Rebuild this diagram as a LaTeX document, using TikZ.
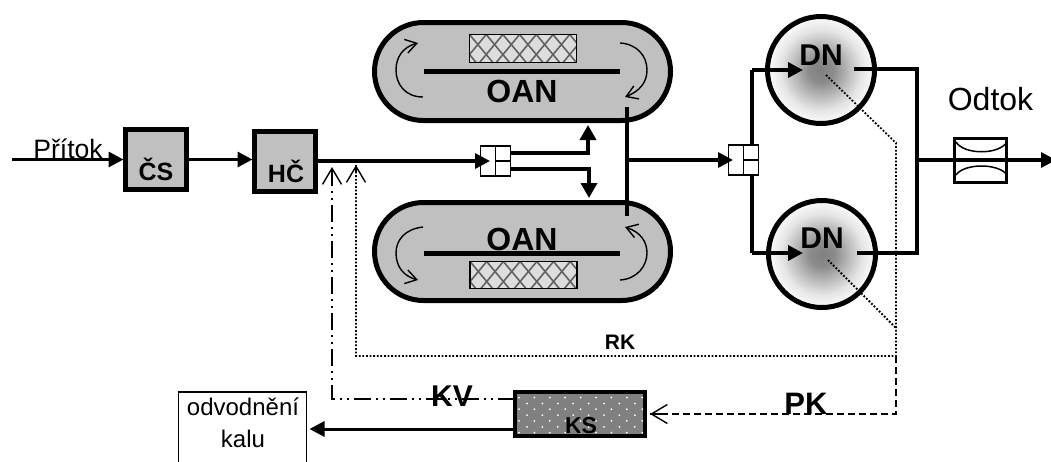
\documentclass[tikz,border=0pt]{standalone}
\usepackage{fontspec}
\setmainfont{Liberation Sans}
\usetikzlibrary{arrows.meta,calc}
\definecolor{tankgray}{HTML}{C0C0C0}
\definecolor{ksgray}{HTML}{808080}
\definecolor{hatchfill}{HTML}{DDDDDD}
\pgfdeclareradialshading{dnshade}{\pgfpointorigin}{rgb(0bp)=(.5,.5,.5);rgb(6bp)=(.55,.55,.55);rgb(13bp)=(.74,.74,.74);rgb(19bp)=(.9,.9,.9);rgb(26bp)=(1,1,1);rgb(50bp)=(1,1,1)}
\tikzset{
  lbl/.style={inner sep=0pt,outer sep=0pt,text=black,anchor=base},
  boxlbl/.style={lbl,font=\fontsize{25}{25}\selectfont\bfseries},
  oanlbl/.style={lbl,font=\fontsize{32}{32}\selectfont\bfseries},
  plainlbl/.style={lbl,font=\fontsize{24}{24}\selectfont},
  grayblock/.style={draw=black,fill=tankgray,line width=5pt,inner sep=0pt,outer sep=0pt,minimum width=61pt,minimum height=60pt},
  tank/.style={draw=black,fill=tankgray,line width=5pt,inner sep=0pt,outer sep=0pt,rounded corners=49pt,minimum width=296pt,minimum height=98pt},
  hatchbox/.style={draw=black,fill=hatchfill,line width=1.5pt,inner sep=0pt,outer sep=0pt},
  bar/.style={line width=5pt},
  splitter/.style={draw=black,fill=white,line width=1.5pt,inner sep=0pt,outer sep=0pt,minimum width=30pt,minimum height=30pt},
  settler/.style={circle,draw=black,line width=5pt,shading=dnshade,inner sep=0pt,outer sep=0pt,minimum size=107pt},
  solidarr/.style={draw=black,line width=3.3pt,-{Triangle[length=15pt,width=15pt]}},
  pipe/.style={draw=black,line width=3.5pt},
  swirl/.style={draw=black,line width=1.4pt,-{Straight Barb[length=11pt,width=14pt,line width=1.4pt]}},
  openarr/.style={-{Straight Barb[length=16pt,width=19pt,line width=1.4pt]}},
  rkline/.style={draw=black,line width=1.8pt,dash pattern=on 1.8pt off 1.8pt},
  pkline/.style={draw=black,line width=1.7pt,dash pattern=on 7pt off 4pt},
  kvline/.style={draw=black,line width=1.8pt,dash pattern=on 17pt off 5pt on 2pt off 5pt on 2pt off 5pt},
}
\begin{document}
\begin{tikzpicture}[x=1pt,y=-1pt]
\useasboundingbox (0,0) rectangle (1051,461);
\clip (0,0) rectangle (1051,461);

% named free ends and bends
\coordinate (inflow) at (12,159.5);
\coordinate (hcout) at (318,161);
\coordinate (teeTop) at (752,70);
\coordinate (teeBot) at (752,253);
\coordinate (dn1hole) at (826,75);
\coordinate (dn2hole) at (828,260);
\coordinate (dn1out) at (854,69);
\coordinate (dn2out) at (857,253);
\coordinate (collect1) at (917,69);
\coordinate (collect2) at (917,253);
\coordinate (collectM) at (917,160);
\coordinate (outflow) at (1056,160);
\coordinate (rkBend) at (896,143);
\coordinate (rkJoin2) at (896,328);
\coordinate (rkCorner) at (896,356);
\coordinate (rkLeft) at (356,356);
\coordinate (rkTip) at (356,165);
\coordinate (pkCorner) at (896,414);
\coordinate (pkTip) at (650,414);
\coordinate (kvCorner) at (332,399);
\coordinate (kvTip) at (332,167);
\coordinate (splitUpA) at (588,153);
\coordinate (splitUpTip) at (588,125);
\coordinate (splitDnA) at (589,169);
\coordinate (splitDnTip) at (589,198);
\coordinate (riserTop) at (627,107);
\coordinate (riserBot) at (627,216);
\coordinate (riserOut) at (627,160);

% tanks
\node[tank] (oanT) at (522.5,71.5) {};
\node[tank] (oanB) at (522.5,251.5) {};
\node[hatchbox,minimum width=107pt,minimum height=28pt] (hatchT) at (523,48.5) {};
\node[hatchbox,minimum width=107pt,minimum height=27pt] (hatchB) at (523.5,275) {};
\foreach \n in {hatchT,hatchB}{
  \begin{scope}
    \clip (\n.south west) rectangle (\n.north east);
    \foreach \k in {-4,...,9}{
      \draw[line width=1.6pt,draw=black!62] ($(\n.north west)+(\k*16.7,0)$) -- ++(25,30);
      \draw[line width=1.6pt,draw=black!62] ($(\n.north west)+(\k*16.7,0)$) -- ++(-25,30);
    }
  \end{scope}
  \draw[line width=1.5pt] (\n.south west) rectangle (\n.north east);
}
\coordinate (barTl) at (424,71); \coordinate (barTr) at (620,71);
\coordinate (barBl) at (424,253); \coordinate (barBr) at (620,253);
\draw[bar] (barTl) -- (barTr);
\draw[bar] (barBl) -- (barBr);
\node[oanlbl] (oanTl) at (522,102) {OAN};
\node[oanlbl] (oanBl) at (522,250) {OAN};
% circulation arrows
\draw[swirl] (423,97) .. controls (405,97) and (396,84) .. (396,70) .. controls (396,57) and (403,47) .. (418,43);
\draw[swirl] (620,43) .. controls (637,44) and (647,56) .. (647,70) .. controls (647,82) and (640,91) .. (625,97);
\draw[swirl] (423,227) .. controls (405,229) and (396,240) .. (396,253) .. controls (396,266) and (403,276) .. (418,280);
\draw[swirl] (620,280) .. controls (637,279) and (647,266) .. (647,253) .. controls (647,241) and (640,232) .. (625,227);

% inflow chain
\node[grayblock] (cs) at (156,159.5) {};
\node[grayblock] (hc) at (285,161.5) {};
\draw[solidarr,shorten >=2pt] (inflow) -- (cs.west);
\draw[solidarr,shorten >=2pt] (cs.east) -- (cs.east -| hc.west);
\node[boxlbl] (csl) at (156,180) {ČS};
\node[boxlbl] (hcl) at (286,182) {HČ};
\node[lbl,font=\fontsize{26.6}{26.6}\selectfont] (pritok) at (68,158) {Přítok};

% splitter 1
\node[splitter] (sp1) at (495.5,161) {};
\draw[line width=1.5pt] (sp1.north) -- (sp1.south) (sp1.center) -- (sp1.east);
\draw[solidarr,shorten >=5.5pt] (hcout) -- (sp1.center);
\draw[pipe,-{Triangle[length=15pt,width=16pt]}] (sp1.east |- splitUpA) -| (splitUpTip);
\draw[pipe,-{Triangle[length=15pt,width=16pt]}] (sp1.east |- splitDnA) -| (splitDnTip);
% riser
\draw[pipe] (riserTop) -- (riserBot);
% splitter 2
\draw[pipe] (teeTop) -- (teeBot);
\node[splitter] (sp2) at (743.5,160) {};
\draw[line width=1.5pt] (sp2.north) -- (sp2.south) (sp2.center) -- (sp2.east);
\draw[solidarr,shorten >=10.5pt] (riserOut) -- (sp2.center);

% settlers
\node[settler] (dn1) at (821,70) {};
\node[settler] (dn2) at (822,254) {};
\draw[pipe,-{Triangle[length=15pt,width=15pt]}] (teeTop) -- (803,70);
\draw[pipe,-{Triangle[length=15pt,width=15pt]}] (teeBot) -- (803,253);
\node[lbl,font=\fontsize{30}{30}\selectfont\bfseries] (dn1l) at (821,65) {DN};
\node[lbl,font=\fontsize{30}{30}\selectfont\bfseries] (dn2l) at (822,248) {DN};
\draw[pipe] (dn1out) -- (collect1) -- (collect2) -- (dn2out);

% outlet
\node[draw=black,fill=white,line width=3.5pt,inner sep=0pt,outer sep=0pt,minimum width=52pt,minimum height=44pt] (meter) at (980.5,160.5) {};
\draw[solidarr] (collectM) -- (outflow);
\draw[line width=1.5pt] (956,142) .. controls (964,155) and (999,155) .. (1007,142);
\draw[line width=1.5pt] (956,175) .. controls (964,163) and (999,163) .. (1007,175);
\node[lbl,font=\fontsize{32}{32}\selectfont] (odtok) at (990.5,110) {Odtok};

% return sludge, dotted
\draw[rkline] (dn1hole) -- (rkBend) -- (rkCorner) -- (rkLeft) -- (rkTip);
\draw[rkline] (dn2hole) -- (rkJoin2);
\draw[line width=1.4pt,draw=black,openarr] (356,172) -- (rkTip);
\node[lbl,font=\fontsize{21}{21}\selectfont\bfseries] (rk) at (620,349) {RK};

% excess sludge
\node[draw=black,fill=ksgray,line width=4pt,inner sep=0pt,outer sep=0pt,minimum width=130pt,minimum height=44pt] (ks) at (580,414) {};
\foreach \i in {0,...,8}{
  \foreach \j in {0,1,2,3}{
    \fill[white] ({519+\i*15.4},{397.5+\j*11.7}) circle (1pt);
  }
}
\foreach \i in {0,...,7}{
  \foreach \j in {0,1,2}{
    \fill[white] ({527+\i*15.4},{403.5+\j*11.7}) circle (1pt);
  }
}
\node[lbl,font=\fontsize{23}{23}\selectfont\bfseries] (ksl) at (581,433) {KS};
\draw[pkline] (rkCorner) -- (pkCorner) -- (pkTip);
\draw[line width=1.4pt,draw=black,openarr] (667,414) -- (pkTip);
\node[lbl,font=\fontsize{31}{31}\selectfont\bfseries] (pk) at (806,414) {PK};

% sludge water
\draw[kvline] (ks.west |- kvCorner) -- (kvCorner) -- (kvTip);
\draw[line width=1.4pt,draw=black,openarr] (332,173) -- (kvTip);
\node[lbl,font=\fontsize{30}{30}\selectfont\bfseries] (kv) at (452,406) {KV};

% dewatering
\node[draw=black,fill=white,line width=1.5pt,inner sep=0pt,outer sep=0pt,minimum width=128pt,minimum height=80pt] (dew) at (242.5,432) {};
\node[plainlbl] (dew1) at (243,415) {odvodnění};
\node[plainlbl] (dew2) at (243,447) {kalu};
\coordinate (ksBack) at (513,429);
\draw[solidarr,line width=3pt,shorten >=3pt] (ksBack) -- (dew.east |- ksBack);
\end{tikzpicture}
\end{document}
